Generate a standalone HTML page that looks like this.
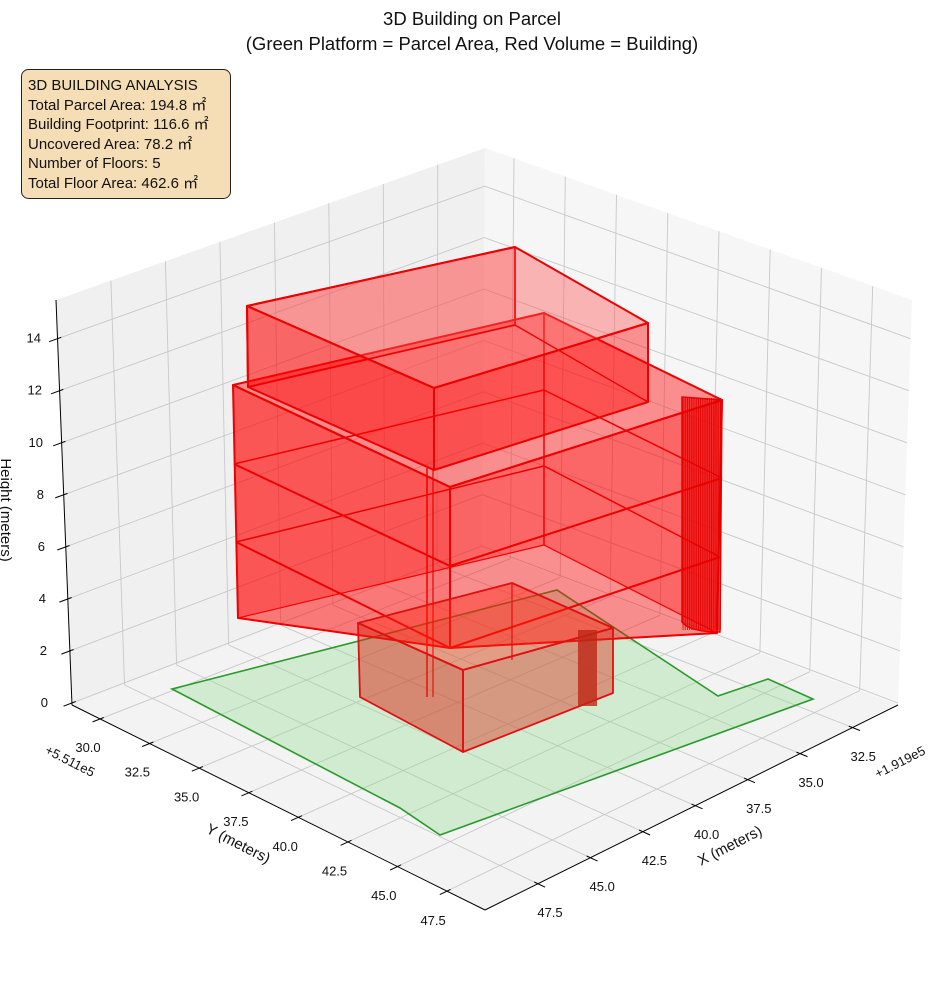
<!DOCTYPE html>
<html><head><meta charset="utf-8"><style>
html,body{margin:0;padding:0;background:#fff;}
svg{display:block;font-family:"Liberation Sans","DejaVu Sans",sans-serif;}
</style></head><body>
<svg id="s" width="944" height="992" viewBox="0 0 944 992" xmlns="http://www.w3.org/2000/svg">
<rect width="944" height="992" fill="#fff"/>
<text x="472" y="25" font-size="18.5" text-anchor="middle" fill="#111">3D Building on Parcel</text>
<text x="472" y="50" font-size="18.5" text-anchor="middle" fill="#111">(Green Platform = Parcel Area, Red Volume = Building)</text>
<g id="panes">
<polygon points="72,705 482,548 485,148 56,300" fill="#f0f0f0"/>
<polygon points="482,548 898,705 912,300 485,148" fill="#f6f6f6"/>
<polygon points="72,705 485,910 898,705 482,548" fill="#f3f3f3"/>
</g>
<g id="grid" stroke="#c8c8c8" stroke-width="0.9" fill="none"></g>
<g id="axes" stroke="#000" stroke-width="1" fill="none">
<line x1="72" y1="705" x2="485" y2="910"/>
<line x1="485" y1="910" x2="898" y2="705"/>
<line x1="72" y1="705" x2="56" y2="300"/>
</g>
<g id="ticks" stroke="#000" stroke-width="1"></g>
<g id="labels" font-size="13" fill="#111"></g>
<!-- parcel -->
<polygon points="172,689 557,590 718,696 768,679 813,699 440,835 400,808" fill="rgba(144,222,144,0.35)" stroke="#2a9a2a" stroke-width="1.6"/>
<!-- main block back faces -->
<g stroke="#e00" stroke-width="1.2">
<polygon points="233,385 544,313 544,545 238,618" fill="rgba(255,0,0,0.28)"/>
<polygon points="544,313 722,400 717,633 544,545" fill="rgba(255,0,0,0.28)"/>
</g>
<!-- main block -->
<g stroke="#e00" stroke-width="2" stroke-linejoin="round">
<polygon points="233,385 544,313 722,400 450,487" fill="rgba(255,60,60,0.3)"/>
<polygon points="233,385 450,487 450,648 238,618" fill="rgba(255,0,0,0.5)"/>
<polygon points="450,487 722,400 717,633 450,648" fill="rgba(255,0,0,0.42)"/>
<polyline points="234,464 450,566 722,478" fill="none"/>
<polyline points="236,542 450,648 720,557" fill="none"/>
<polyline points="234,464 544,390 722,478" fill="none" stroke-width="1.5"/>
<polyline points="236,542 544,466 720,557" fill="none" stroke-width="1.5"/>
<line x1="427" y1="468" x2="427" y2="697" stroke-width="1.5"/>
<line x1="433" y1="470" x2="433" y2="697" stroke-width="1.2"/>
<line x1="544" y1="313" x2="544" y2="545" stroke-width="1.2"/>
</g>
<!-- cylinder right -->
<g>
<path d="M682,397 L722,400 L720,632 Q690,632 682,622 Z" fill="rgba(240,0,0,0.6)" stroke="#e00" stroke-width="1.5"/>
<g id="cyl" stroke="#d00" stroke-width="0.8"></g>
</g>
<!-- top box -->
<g stroke="#e00" stroke-width="2" stroke-linejoin="round">
<polygon points="247,306 515,247 515,325 248,387" fill="rgba(255,0,0,0.18)"/>
<polygon points="247,306 515,247 648,323 434,388" fill="rgba(255,80,80,0.4)"/>
<polygon points="247,306 434,388 434,470 248,387" fill="rgba(255,0,0,0.48)"/>
<polygon points="434,388 648,323 648,402 434,470" fill="rgba(255,0,0,0.42)"/>
<polyline points="248,387 515,325 648,402" fill="none" stroke-width="1.3"/>
</g>
<!-- lower box -->
<g stroke="#e01010" stroke-width="1.8" stroke-linejoin="round">
<polygon points="358,623 512,583 613,628 463,670" fill="rgba(255,40,20,0.4)"/>
<polygon points="358,623 463,670 463,752 360,697" fill="rgba(220,40,20,0.5)"/>
<polygon points="463,670 613,628 613,693 463,752" fill="rgba(220,50,30,0.45)"/>
<line x1="512" y1="583" x2="512" y2="660" stroke-width="1.2"/>
<rect x="578" y="630" width="19" height="76" fill="rgba(190,40,20,0.8)" stroke="none"/>
</g>
<!-- info box -->
<rect x="21.5" y="69.5" width="209" height="129" rx="7" fill="#f5deb6" stroke="#222" stroke-width="1"/>
<g font-size="15" fill="#111">
<text x="28" y="90">3D BUILDING ANALYSIS</text>
<text x="28" y="110">Total Parcel Area: 194.8 ㎡</text>
<text x="28" y="129">Building Footprint: 116.6 ㎡</text>
<text x="28" y="149">Uncovered Area: 78.2 ㎡</text>
<text x="28" y="168">Number of Floors: 5</text>
<text x="28" y="188">Total Floor Area: 462.6 ㎡</text>
</g>
<g font-size="15" fill="#111">
<text transform="translate(236,848) rotate(27)" text-anchor="middle">Y (meters)</text>
<text transform="translate(732,850) rotate(-27)" text-anchor="middle">X (meters)</text>
<text transform="translate(1,510) rotate(90)" text-anchor="middle">Height (meters)</text>
</g>
<g font-size="13" fill="#111">
<text transform="translate(68,765) rotate(27)" text-anchor="middle">+5.511e5</text>
<text transform="translate(902,766) rotate(-27)" text-anchor="middle">+1.919e5</text>
</g>
<script>
(function(){
var NS="http://www.w3.org/2000/svg";
function L(a,b,t){return[a[0]+(b[0]-a[0])*t,a[1]+(b[1]-a[1])*t];}
function line(g,p,q){var e=document.createElementNS(NS,"line");e.setAttribute("x1",p[0].toFixed(1));e.setAttribute("y1",p[1].toFixed(1));e.setAttribute("x2",q[0].toFixed(1));e.setAttribute("y2",q[1].toFixed(1));g.appendChild(e);}
function txt(g,x,y,s,anchor){var e=document.createElementNS(NS,"text");e.setAttribute("x",x.toFixed(1));e.setAttribute("y",y.toFixed(1));if(anchor)e.setAttribute("text-anchor",anchor);e.textContent=s;g.appendChild(e);}
var Lc=[72,705],F=[485,910],R=[898,705],B=[482,548],T=[485,148],TL=[56,300],TR=[912,300];
var grid=document.getElementById("grid"),ticks=document.getElementById("ticks"),lab=document.getElementById("labels");
function ext(p,q,d){var dx=q[0]-p[0],dy=q[1]-p[1],n=Math.hypot(dx,dy);return[q[0]+dx/n*d,q[1]+dy/n*d];}
var ylab=["30.0","32.5","35.0","37.5","40.0","42.5","45.0","47.5"];
for(var k=0;k<8;k++){var f=0.068+k*0.12;var a=L(Lc,F,f),b=L(B,R,f);line(grid,a,b);line(grid,b,L(T,TR,f));line(ticks,ext(b,a,-4),ext(b,a,8));
txt(lab,88+k*49.3,752+k*24.7,ylab[k],"middle");}
var xlab=["47.5","45.0","42.5","40.0","37.5","35.0","32.5"];
for(var k=0;k<7;k++){var g=0.128+k*0.127;var a=L(F,R,g),b=L(Lc,B,g);line(grid,a,b);line(grid,b,L(TL,T,g));line(ticks,ext(b,a,-4),ext(b,a,8));
txt(lab,550+k*52.2,917-k*26,xlab[k],"middle");}
for(var k=0;k<8;k++){var h=0.005+k*0.1285;var a=L(Lc,TL,h),b=L(B,T,h),c=L(R,TR,h);line(grid,a,b);line(grid,b,c);line(ticks,ext(b,a,-4),ext(b,a,9));
txt(lab,48-k*1.0,a[1]+4,String(k*2),"end");}
var cyl=document.getElementById("cyl");
for(var x=683;x<=721;x+=2.2){line(cyl,[x,398],[x,630]);}
})();
</script>
</svg>
</body></html>
